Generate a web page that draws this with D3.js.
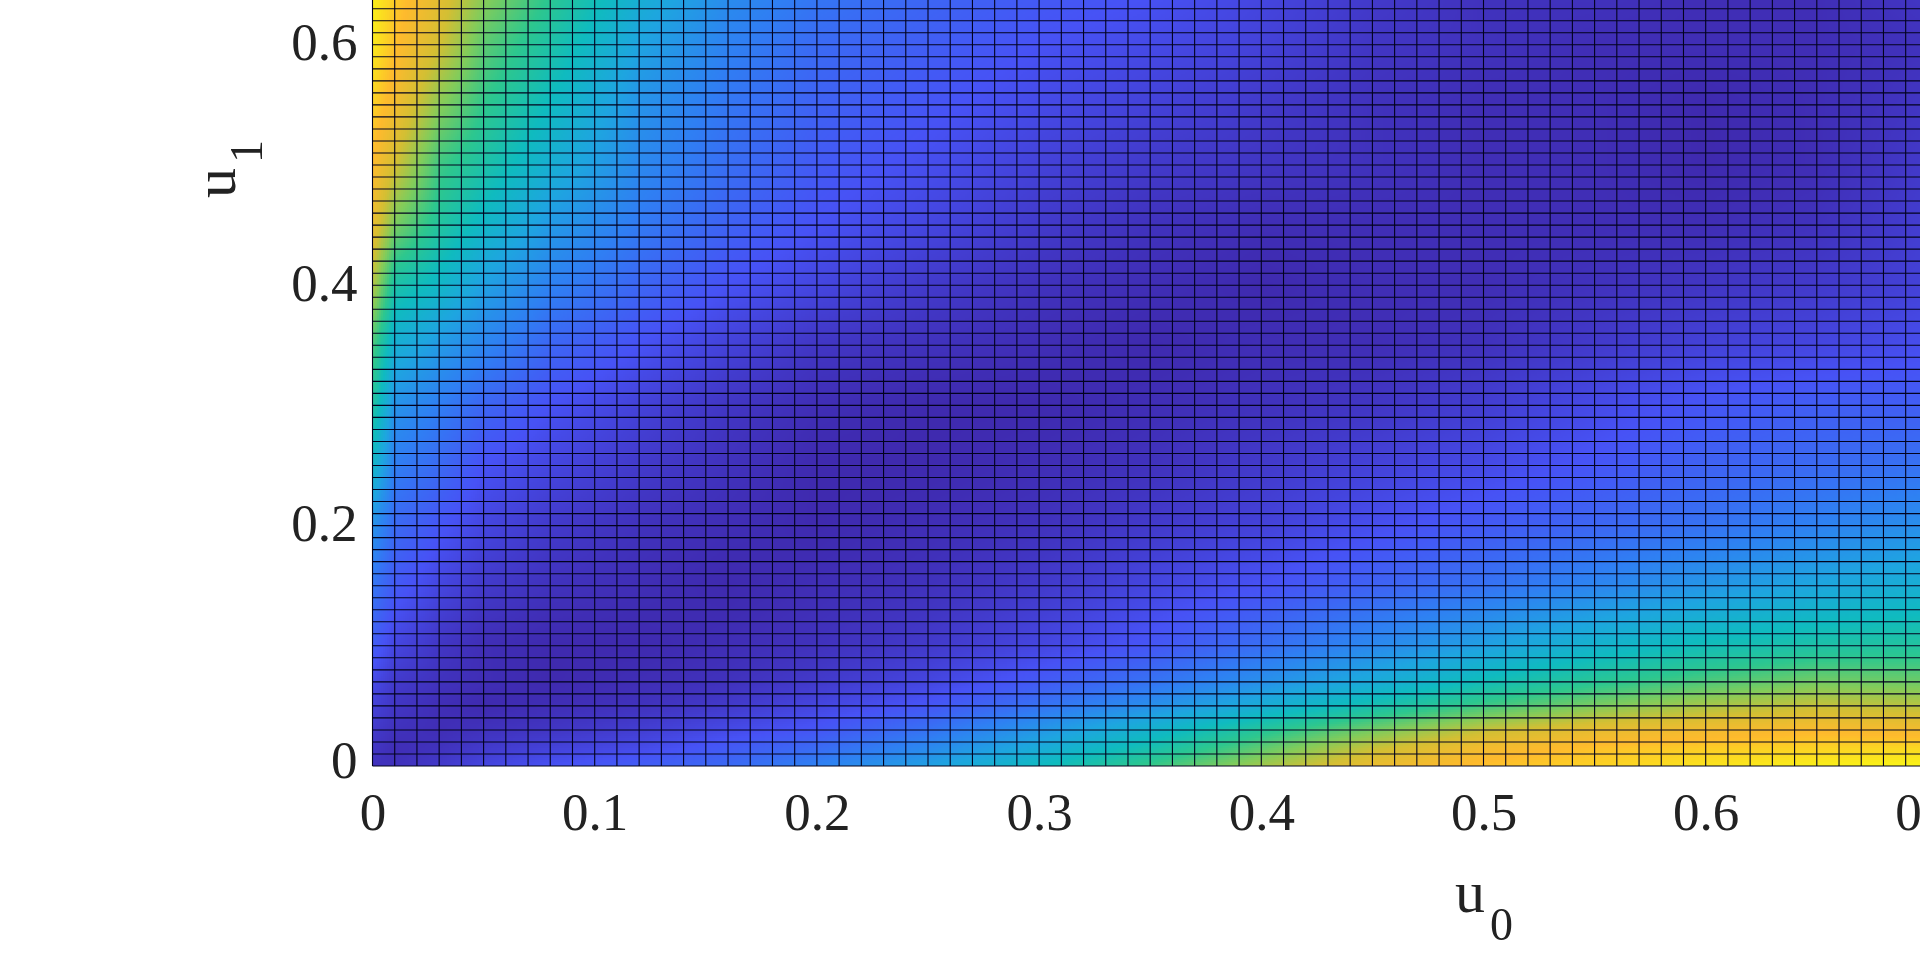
<!DOCTYPE html>
<html><head><meta charset="utf-8">
<script src="https://cdnjs.cloudflare.com/ajax/libs/d3/7.8.5/d3.min.js"></script>
<style>
html,body{margin:0;padding:0;background:#fff;overflow:hidden}
#wrap{position:relative;width:1920px;height:963px;overflow:hidden}
canvas,svg{position:absolute;left:0;top:0}
text{font-family:"Liberation Serif",serif;fill:#222}
</style></head><body><div id="wrap"><canvas id="c" width="1920" height="963"></canvas><svg id="s" width="1920" height="963"></svg></div>
<script>
// Surface heights estimated by eye at these sample positions (0 = dark end, 1 = yellow end of the colormap).
const u0Samples=[0,.01,.03,.05,.08,.12,.16,.2,.25,.3,.35,.4,.45,.5,.55,.6,.65,.7];
const u1Samples=[.64,.6,.55,.5,.45,.4,.35,.3,.25,.2,.15,.1,.07,.05,.03,.015,0];
const row064=[.98,.92,.82,.68,.55,.38,.26,.20,.16,.13,.11,.08,.05,.03,.03,.02,.02,.04];
const row060=[.97,.90,.78,.62,.50,.33,.23,.17,.14,.11,.09,.07,.04,.03,.02,.02,.02,.03];
const row055=[.93,.86,.68,.56,.44,.28,.20,.15,.12,.09,.07,.05,.03,.02,.02,.01,.02,.04];
const row050=[.89,.78,.58,.50,.38,.25,.18,.13,.10,.07,.05,.04,.03,.02,.02,.01,.02,.05];
const row045=[.84,.66,.52,.42,.30,.21,.15,.11,.08,.05,.03,.02,.02,.02,.02,.02,.03,.06];
const row040=[.74,.50,.42,.32,.23,.16,.11,.08,.05,.03,.02,.01,.02,.02,.03,.04,.05,.07];
const row035=[.60,.38,.30,.24,.16,.11,.07,.04,.03,.02,.01,.02,.02,.03,.05,.07,.08,.10];
const row030=[.52,.28,.22,.16,.11,.07,.04,.02,.01,.01,.02,.03,.04,.06,.09,.12,.14,.14];
const row025=[.42,.22,.17,.11,.08,.05,.03,.01,.01,.02,.03,.05,.07,.09,.12,.15,.17,.19];
const row020=[.28,.17,.12,.08,.05,.03,.02,.01,.02,.03,.05,.07,.10,.13,.16,.19,.23,.27];
const row015=[.20,.13,.08,.05,.03,.02,.01,.02,.03,.05,.08,.11,.15,.19,.24,.29,.34,.38];
const row010=[.14,.08,.04,.02,.01,.01,.02,.03,.05,.08,.12,.18,.25,.32,.40,.46,.50,.52];
const row007=[.09,.05,.03,.02,.01,.02,.03,.05,.08,.13,.19,.27,.36,.46,.54,.60,.65,.64];
const row005=[.07,.04,.02,.01,.02,.03,.05,.08,.12,.19,.27,.37,.48,.58,.66,.72,.76,.74];
const row003=[.05,.03,.02,.03,.04,.06,.09,.12,.19,.29,.40,.53,.65,.76,.83,.86,.88,.86];
const row0015=[.04,.02,.03,.05,.07,.09,.13,.17,.25,.36,.48,.62,.76,.86,.90,.92,.93,.94];
const row000=[.03,.03,.05,.08,.11,.14,.17,.23,.32,.44,.57,.71,.84,.90,.93,.96,.98,.99];
const heights=[row064,row060,row055,row050,row045,row040,row035,row030,row025,row020,row015,row010,row007,row005,row003,row0015,row000];
const xTicks=[0,.1,.2,.3,.4,.5,.6,.7];
const yTicks=[0,.2,.4,.6];
const colormap=["#3e26a8","#4752f5","#2f7ff3","#1ea5e0","#0fbbbf","#2dc78e","#81cc5b","#d3bf33","#feba2d","#f9fb15"];

const x=d3.scaleLinear().domain([0,1]).range([372.5,372.5+2222]);
const y=d3.scaleLinear().domain([0,1]).range([766,766-1202]);
const color=d3.scaleLinear().domain(colormap.map((_,i)=>i/(colormap.length-1))).range(colormap).clamp(true);

// Smooth-shaded surface, as the reference's interpolated facets.
const u1Asc=u1Samples.slice().reverse();
function height(u,v){
  const i=Math.min(d3.bisectRight(u0Samples,u)-1,u0Samples.length-2);
  const j=Math.min(d3.bisectRight(u1Asc,v)-1,u1Asc.length-2);
  const tx=Math.max(0,Math.min(1,(u-u0Samples[i])/(u0Samples[i+1]-u0Samples[i])));
  const ty=Math.max(0,Math.min(1,(v-u1Asc[j])/(u1Asc[j+1]-u1Asc[j])));
  const rowA=heights[u1Samples.length-1-j], rowB=heights[u1Samples.length-2-j];
  return (rowA[i]*(1-tx)+rowA[i+1]*tx)*(1-ty)+(rowB[i]*(1-tx)+rowB[i+1]*tx)*ty;
}
const ctx=document.getElementById("c").getContext("2d");
const step=2;
const x0=Math.round(x(0)), y1=Math.round(y(0));
for(let px=x0;px<1920;px+=step){
  for(let py=0;py<y1;py+=step){
    ctx.fillStyle=color(height(x.invert(px+1),y.invert(py+1)));
    ctx.fillRect(px,py,step,step);
  }
}

const svg=d3.select("#s");
// Mesh lines every 0.01 in both directions
const gridX=d3.range(0,71).map(d=>d/100), gridY=d3.range(0,64).map(d=>d/100);
svg.append("g").selectAll("line").data(gridX).join("line")
  .attr("x1",d=>x(d)).attr("x2",d=>x(d)).attr("y1",0).attr("y2",y(0))
  .attr("stroke","#02021e").attr("stroke-width",1.1);
svg.append("g").selectAll("line").data(gridY).join("line")
  .attr("x1",x(0)).attr("x2",1920).attr("y1",d=>y(d)).attr("y2",d=>y(d))
  .attr("stroke","#02021e").attr("stroke-width",1.1);

const fmt=d=>d===0?"0":d3.format(".1f")(d);
const ax=svg.append("g").attr("transform",`translate(0,${y(0)})`)
  .call(d3.axisBottom(x).tickValues(xTicks).tickFormat(fmt).tickSize(0).tickPadding(0));
ax.select(".domain").remove();
ax.selectAll("text").attr("font-size",53).attr("y",64).attr("dy",0).style("font-family",'"Liberation Serif",serif').style("fill","#222");
const ay=svg.append("g").attr("transform",`translate(${x(0)},0)`)
  .call(d3.axisLeft(y).tickValues(yTicks).tickFormat(fmt).tickSize(0).tickPadding(0));
ay.select(".domain").remove();
ay.selectAll("text").attr("font-size",53).attr("x",-15).attr("dy",15).style("font-family",'"Liberation Serif",serif').style("fill","#222");
ay.selectAll(".tick").filter(d=>d===0).select("text").attr("dy",11);

svg.append("text").attr("x",1455).attr("y",912).attr("font-size",60).text("u");
svg.append("text").attr("x",1490).attr("y",940).attr("font-size",46).text("0");
const yl=svg.append("g").attr("transform","translate(235,198) rotate(-90)");
yl.append("text").attr("x",0).attr("y",0).attr("font-size",60).text("u");
yl.append("text").attr("x",35).attr("y",27).attr("font-size",46).text("1");
</script></body></html>
